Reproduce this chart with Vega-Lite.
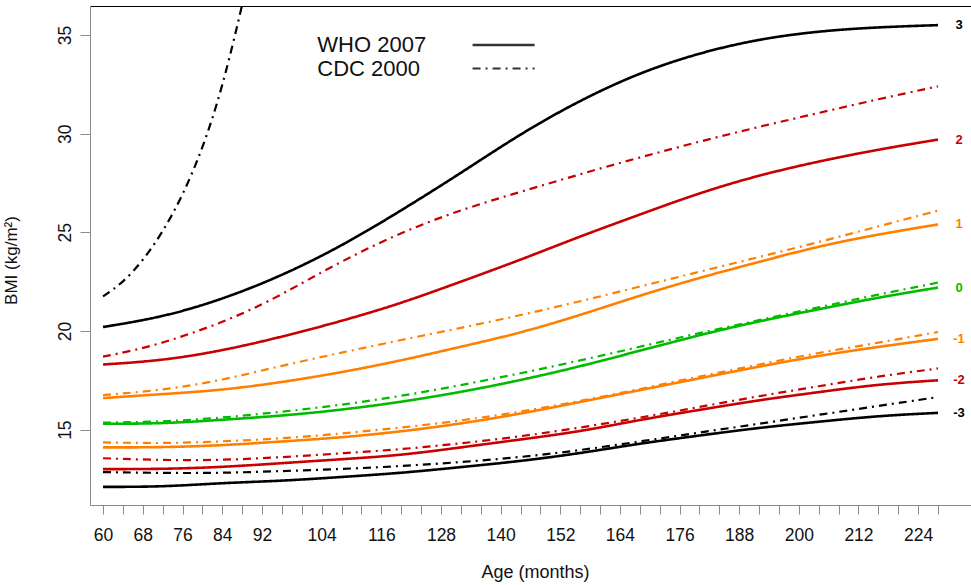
{
  "$schema": "https://vega.github.io/schema/vega-lite/v6.json",
  "width": 881,
  "height": 499,
  "autosize": {"type": "none"},
  "padding": {"left": 90, "top": 6, "right": 0, "bottom": 80},
  "background": "white",
  "config": {"font": "Liberation Sans", "view": {"stroke": null}},
  "datasets": {
    "curves": [
      {"src":"WHO 2007","z":"3","age":60,"bmi":20.2},{"src":"WHO 2007","z":"3","age":72,"bmi":20.7},{"src":"WHO 2007","z":"3","age":84,"bmi":21.6},{"src":"WHO 2007","z":"3","age":96,"bmi":22.8},{"src":"WHO 2007","z":"3","age":108,"bmi":24.3},{"src":"WHO 2007","z":"3","age":120,"bmi":26.1},{"src":"WHO 2007","z":"3","age":132,"bmi":28.0},{"src":"WHO 2007","z":"3","age":144,"bmi":30.0},{"src":"WHO 2007","z":"3","age":156,"bmi":31.7},{"src":"WHO 2007","z":"3","age":168,"bmi":33.1},{"src":"WHO 2007","z":"3","age":180,"bmi":34.1},{"src":"WHO 2007","z":"3","age":192,"bmi":34.8},{"src":"WHO 2007","z":"3","age":204,"bmi":35.2},{"src":"WHO 2007","z":"3","age":216,"bmi":35.4},{"src":"WHO 2007","z":"3","age":228,"bmi":35.5},
      {"src":"WHO 2007","z":"2","age":60,"bmi":18.3},{"src":"WHO 2007","z":"2","age":72,"bmi":18.5},{"src":"WHO 2007","z":"2","age":84,"bmi":19.0},{"src":"WHO 2007","z":"2","age":96,"bmi":19.7},{"src":"WHO 2007","z":"2","age":108,"bmi":20.5},{"src":"WHO 2007","z":"2","age":120,"bmi":21.4},{"src":"WHO 2007","z":"2","age":132,"bmi":22.5},{"src":"WHO 2007","z":"2","age":144,"bmi":23.6},{"src":"WHO 2007","z":"2","age":156,"bmi":24.8},{"src":"WHO 2007","z":"2","age":168,"bmi":25.9},{"src":"WHO 2007","z":"2","age":180,"bmi":27.0},{"src":"WHO 2007","z":"2","age":192,"bmi":27.9},{"src":"WHO 2007","z":"2","age":204,"bmi":28.6},{"src":"WHO 2007","z":"2","age":216,"bmi":29.2},{"src":"WHO 2007","z":"2","age":228,"bmi":29.7},
      {"src":"WHO 2007","z":"1","age":60,"bmi":16.6},{"src":"WHO 2007","z":"1","age":72,"bmi":16.8},{"src":"WHO 2007","z":"1","age":84,"bmi":17.0},{"src":"WHO 2007","z":"1","age":96,"bmi":17.4},{"src":"WHO 2007","z":"1","age":108,"bmi":17.9},{"src":"WHO 2007","z":"1","age":120,"bmi":18.5},{"src":"WHO 2007","z":"1","age":132,"bmi":19.2},{"src":"WHO 2007","z":"1","age":144,"bmi":19.9},{"src":"WHO 2007","z":"1","age":156,"bmi":20.8},{"src":"WHO 2007","z":"1","age":168,"bmi":21.8},{"src":"WHO 2007","z":"1","age":180,"bmi":22.7},{"src":"WHO 2007","z":"1","age":192,"bmi":23.5},{"src":"WHO 2007","z":"1","age":204,"bmi":24.3},{"src":"WHO 2007","z":"1","age":216,"bmi":24.9},{"src":"WHO 2007","z":"1","age":228,"bmi":25.4},
      {"src":"WHO 2007","z":"0","age":60,"bmi":15.3},{"src":"WHO 2007","z":"0","age":72,"bmi":15.3},{"src":"WHO 2007","z":"0","age":84,"bmi":15.5},{"src":"WHO 2007","z":"0","age":96,"bmi":15.7},{"src":"WHO 2007","z":"0","age":108,"bmi":16.0},{"src":"WHO 2007","z":"0","age":120,"bmi":16.4},{"src":"WHO 2007","z":"0","age":132,"bmi":16.9},{"src":"WHO 2007","z":"0","age":144,"bmi":17.5},{"src":"WHO 2007","z":"0","age":156,"bmi":18.2},{"src":"WHO 2007","z":"0","age":168,"bmi":19.0},{"src":"WHO 2007","z":"0","age":180,"bmi":19.8},{"src":"WHO 2007","z":"0","age":192,"bmi":20.5},{"src":"WHO 2007","z":"0","age":204,"bmi":21.1},{"src":"WHO 2007","z":"0","age":216,"bmi":21.7},{"src":"WHO 2007","z":"0","age":228,"bmi":22.2},
      {"src":"WHO 2007","z":"-1","age":60,"bmi":14.1},{"src":"WHO 2007","z":"-1","age":72,"bmi":14.1},{"src":"WHO 2007","z":"-1","age":84,"bmi":14.2},{"src":"WHO 2007","z":"-1","age":96,"bmi":14.4},{"src":"WHO 2007","z":"-1","age":108,"bmi":14.6},{"src":"WHO 2007","z":"-1","age":120,"bmi":14.9},{"src":"WHO 2007","z":"-1","age":132,"bmi":15.3},{"src":"WHO 2007","z":"-1","age":144,"bmi":15.8},{"src":"WHO 2007","z":"-1","age":156,"bmi":16.4},{"src":"WHO 2007","z":"-1","age":168,"bmi":17.0},{"src":"WHO 2007","z":"-1","age":180,"bmi":17.6},{"src":"WHO 2007","z":"-1","age":192,"bmi":18.2},{"src":"WHO 2007","z":"-1","age":204,"bmi":18.75},{"src":"WHO 2007","z":"-1","age":216,"bmi":19.2},{"src":"WHO 2007","z":"-1","age":228,"bmi":19.6},
      {"src":"WHO 2007","z":"-2","age":60,"bmi":13.0},{"src":"WHO 2007","z":"-2","age":72,"bmi":13.0},{"src":"WHO 2007","z":"-2","age":84,"bmi":13.1},{"src":"WHO 2007","z":"-2","age":96,"bmi":13.3},{"src":"WHO 2007","z":"-2","age":108,"bmi":13.5},{"src":"WHO 2007","z":"-2","age":120,"bmi":13.7},{"src":"WHO 2007","z":"-2","age":132,"bmi":14.1},{"src":"WHO 2007","z":"-2","age":144,"bmi":14.5},{"src":"WHO 2007","z":"-2","age":156,"bmi":14.9},{"src":"WHO 2007","z":"-2","age":168,"bmi":15.5},{"src":"WHO 2007","z":"-2","age":180,"bmi":16.0},{"src":"WHO 2007","z":"-2","age":192,"bmi":16.5},{"src":"WHO 2007","z":"-2","age":204,"bmi":16.9},{"src":"WHO 2007","z":"-2","age":216,"bmi":17.3},{"src":"WHO 2007","z":"-2","age":228,"bmi":17.5},
      {"src":"WHO 2007","z":"-3","age":60,"bmi":12.1},{"src":"WHO 2007","z":"-3","age":72,"bmi":12.1},{"src":"WHO 2007","z":"-3","age":84,"bmi":12.3},{"src":"WHO 2007","z":"-3","age":96,"bmi":12.4},{"src":"WHO 2007","z":"-3","age":108,"bmi":12.6},{"src":"WHO 2007","z":"-3","age":120,"bmi":12.8},{"src":"WHO 2007","z":"-3","age":132,"bmi":13.1},{"src":"WHO 2007","z":"-3","age":144,"bmi":13.4},{"src":"WHO 2007","z":"-3","age":156,"bmi":13.8},{"src":"WHO 2007","z":"-3","age":168,"bmi":14.3},{"src":"WHO 2007","z":"-3","age":180,"bmi":14.7},{"src":"WHO 2007","z":"-3","age":192,"bmi":15.1},{"src":"WHO 2007","z":"-3","age":204,"bmi":15.4},{"src":"WHO 2007","z":"-3","age":216,"bmi":15.7},{"src":"WHO 2007","z":"-3","age":228,"bmi":15.85},
      {"src":"CDC 2000","z":"3","age":60,"bmi":21.75},{"src":"CDC 2000","z":"3","age":64,"bmi":22.45},{"src":"CDC 2000","z":"3","age":68,"bmi":23.55},{"src":"CDC 2000","z":"3","age":72,"bmi":25.0},{"src":"CDC 2000","z":"3","age":76,"bmi":26.85},{"src":"CDC 2000","z":"3","age":80,"bmi":29.2},{"src":"CDC 2000","z":"3","age":84,"bmi":32.3},{"src":"CDC 2000","z":"3","age":88,"bmi":36.5},{"src":"CDC 2000","z":"3","age":89,"bmi":37.7},
      {"src":"CDC 2000","z":"2","age":60,"bmi":18.7},{"src":"CDC 2000","z":"2","age":66,"bmi":19.0},{"src":"CDC 2000","z":"2","age":72,"bmi":19.4},{"src":"CDC 2000","z":"2","age":78,"bmi":19.9},{"src":"CDC 2000","z":"2","age":84,"bmi":20.45},{"src":"CDC 2000","z":"2","age":90,"bmi":21.1},{"src":"CDC 2000","z":"2","age":96,"bmi":21.85},{"src":"CDC 2000","z":"2","age":108,"bmi":23.55},{"src":"CDC 2000","z":"2","age":120,"bmi":25.0},{"src":"CDC 2000","z":"2","age":132,"bmi":26.15},{"src":"CDC 2000","z":"2","age":144,"bmi":27.05},{"src":"CDC 2000","z":"2","age":156,"bmi":27.95},{"src":"CDC 2000","z":"2","age":168,"bmi":28.8},{"src":"CDC 2000","z":"2","age":180,"bmi":29.6},{"src":"CDC 2000","z":"2","age":192,"bmi":30.35},{"src":"CDC 2000","z":"2","age":204,"bmi":31.05},{"src":"CDC 2000","z":"2","age":216,"bmi":31.75},{"src":"CDC 2000","z":"2","age":228,"bmi":32.4},
      {"src":"CDC 2000","z":"1","age":60,"bmi":16.75},{"src":"CDC 2000","z":"1","age":72,"bmi":17.0},{"src":"CDC 2000","z":"1","age":84,"bmi":17.5},{"src":"CDC 2000","z":"1","age":96,"bmi":18.25},{"src":"CDC 2000","z":"1","age":108,"bmi":18.9},{"src":"CDC 2000","z":"1","age":120,"bmi":19.55},{"src":"CDC 2000","z":"1","age":132,"bmi":20.15},{"src":"CDC 2000","z":"1","age":144,"bmi":20.8},{"src":"CDC 2000","z":"1","age":156,"bmi":21.5},{"src":"CDC 2000","z":"1","age":168,"bmi":22.25},{"src":"CDC 2000","z":"1","age":180,"bmi":23.0},{"src":"CDC 2000","z":"1","age":192,"bmi":23.75},{"src":"CDC 2000","z":"1","age":204,"bmi":24.5},{"src":"CDC 2000","z":"1","age":216,"bmi":25.3},{"src":"CDC 2000","z":"1","age":228,"bmi":26.1},
      {"src":"CDC 2000","z":"0","age":60,"bmi":15.35},{"src":"CDC 2000","z":"0","age":72,"bmi":15.4},{"src":"CDC 2000","z":"0","age":84,"bmi":15.6},{"src":"CDC 2000","z":"0","age":96,"bmi":15.9},{"src":"CDC 2000","z":"0","age":108,"bmi":16.25},{"src":"CDC 2000","z":"0","age":120,"bmi":16.7},{"src":"CDC 2000","z":"0","age":132,"bmi":17.25},{"src":"CDC 2000","z":"0","age":144,"bmi":17.85},{"src":"CDC 2000","z":"0","age":156,"bmi":18.5},{"src":"CDC 2000","z":"0","age":168,"bmi":19.2},{"src":"CDC 2000","z":"0","age":180,"bmi":19.9},{"src":"CDC 2000","z":"0","age":192,"bmi":20.55},{"src":"CDC 2000","z":"0","age":204,"bmi":21.2},{"src":"CDC 2000","z":"0","age":216,"bmi":21.85},{"src":"CDC 2000","z":"0","age":228,"bmi":22.45},
      {"src":"CDC 2000","z":"-1","age":60,"bmi":14.35},{"src":"CDC 2000","z":"-1","age":72,"bmi":14.3},{"src":"CDC 2000","z":"-1","age":84,"bmi":14.4},{"src":"CDC 2000","z":"-1","age":96,"bmi":14.55},{"src":"CDC 2000","z":"-1","age":108,"bmi":14.8},{"src":"CDC 2000","z":"-1","age":120,"bmi":15.1},{"src":"CDC 2000","z":"-1","age":132,"bmi":15.45},{"src":"CDC 2000","z":"-1","age":144,"bmi":15.9},{"src":"CDC 2000","z":"-1","age":156,"bmi":16.45},{"src":"CDC 2000","z":"-1","age":168,"bmi":17.05},{"src":"CDC 2000","z":"-1","age":180,"bmi":17.7},{"src":"CDC 2000","z":"-1","age":192,"bmi":18.3},{"src":"CDC 2000","z":"-1","age":204,"bmi":18.9},{"src":"CDC 2000","z":"-1","age":216,"bmi":19.4},{"src":"CDC 2000","z":"-1","age":228,"bmi":19.95},
      {"src":"CDC 2000","z":"-2","age":60,"bmi":13.55},{"src":"CDC 2000","z":"-2","age":72,"bmi":13.45},{"src":"CDC 2000","z":"-2","age":84,"bmi":13.45},{"src":"CDC 2000","z":"-2","age":96,"bmi":13.6},{"src":"CDC 2000","z":"-2","age":108,"bmi":13.8},{"src":"CDC 2000","z":"-2","age":120,"bmi":14.0},{"src":"CDC 2000","z":"-2","age":132,"bmi":14.3},{"src":"CDC 2000","z":"-2","age":144,"bmi":14.65},{"src":"CDC 2000","z":"-2","age":156,"bmi":15.1},{"src":"CDC 2000","z":"-2","age":168,"bmi":15.6},{"src":"CDC 2000","z":"-2","age":180,"bmi":16.15},{"src":"CDC 2000","z":"-2","age":192,"bmi":16.7},{"src":"CDC 2000","z":"-2","age":204,"bmi":17.2},{"src":"CDC 2000","z":"-2","age":216,"bmi":17.7},{"src":"CDC 2000","z":"-2","age":228,"bmi":18.1},
      {"src":"CDC 2000","z":"-3","age":60,"bmi":12.85},{"src":"CDC 2000","z":"-3","age":72,"bmi":12.8},{"src":"CDC 2000","z":"-3","age":84,"bmi":12.8},{"src":"CDC 2000","z":"-3","age":96,"bmi":12.9},{"src":"CDC 2000","z":"-3","age":108,"bmi":13.0},{"src":"CDC 2000","z":"-3","age":120,"bmi":13.15},{"src":"CDC 2000","z":"-3","age":132,"bmi":13.35},{"src":"CDC 2000","z":"-3","age":144,"bmi":13.6},{"src":"CDC 2000","z":"-3","age":156,"bmi":13.95},{"src":"CDC 2000","z":"-3","age":168,"bmi":14.4},{"src":"CDC 2000","z":"-3","age":180,"bmi":14.85},{"src":"CDC 2000","z":"-3","age":192,"bmi":15.3},{"src":"CDC 2000","z":"-3","age":204,"bmi":15.75},{"src":"CDC 2000","z":"-3","age":216,"bmi":16.2},{"src":"CDC 2000","z":"-3","age":228,"bmi":16.65}
    ]
  },
  "data": {"name": "curves"},
  "layer": [
    {
      "mark": {"type": "line", "interpolate": "basis", "clip": true},
      "encoding": {
        "x": {
          "field": "age", "type": "quantitative",
          "scale": {"domain": [57.38, 234.64], "nice": false, "zero": false},
          "axis": {
            "values": [60,64,68,72,76,80,84,88,92,96,100,104,108,112,116,120,124,128,132,136,140,144,148,152,156,160,164,168,172,176,180,184,188,192,196,200,204,208,212,216,220,224,228],
            "labelExpr": "indexof([60,68,76,84,92,104,116,128,140,152,164,176,188,200,212,224], datum.value) >= 0 ? datum.label : ''",
            "title": "Age (months)", "grid": false,
            "domainColor": "#8a8a8a", "tickColor": "#8a8a8a", "tickSize": 9,
            "labelFontSize": 17.5, "labelColor": "#111", "labelPadding": 12,
            "labelOverlap": false, "labelFlush": false,
            "titleFontSize": 18, "titleFontWeight": "normal", "titleColor": "#111",
            "titleX": 445, "titleY": 67, "titleBaseline": "middle"
          }
        },
        "y": {
          "field": "bmi", "type": "quantitative",
          "scale": {"domain": [11.18, 36.47], "nice": false, "zero": false},
          "axis": {
            "values": [15, 20, 25, 30, 35], "labelAngle": -90, "grid": false,
            "domainColor": "#8a8a8a", "tickColor": "#8a8a8a", "tickSize": 10,
            "labelFontSize": 17.5, "labelColor": "#111", "labelPadding": 6,
            "title": "BMI (kg/m²)", "titleFontSize": 17, "titleFontWeight": "normal", "titleColor": "#111",
            "titleX": -79, "titleY": 254, "titleAlign": "center", "titleBaseline": "middle", "titleAngle": -90
          }
        },
        "color": {
          "field": "z", "type": "nominal",
          "scale": {"domain": ["3","2","1","0","-1","-2","-3"], "range": ["#000000","#C80000","#FF8000","#00BB00","#FF8000","#C80000","#000000"]},
          "legend": null
        },
        "strokeDash": {
          "field": "src", "type": "nominal",
          "scale": {"domain": ["WHO 2007", "CDC 2000"], "range": [[1, 0], [8, 5, 2, 5]]},
          "legend": {
            "orient": "none", "legendX": 401.6, "legendY": 27, "title": null,
            "symbolType": "M-3,0H3", "symbolSize": 428, "symbolStrokeWidth": 1, "symbolStrokeColor": "#333",
            "labelFontSize": 22, "labelOffset": -198.3, "labelColor": "#111", "labelAlign": "left",
            "rowPadding": 1, "padding": 0
          }
        },
        "strokeWidth": {
          "field": "src", "type": "nominal",
          "scale": {"domain": ["WHO 2007", "CDC 2000"], "range": [2.6, 2.2]},
          "legend": null
        }
      }
    },
    {
      "transform": [{"filter": "datum.src == 'WHO 2007' && datum.age == 228"}],
      "mark": {"type": "text", "dx": 21, "fontSize": 13, "fontWeight": "bold", "align": "center", "baseline": "middle"},
      "encoding": {
        "x": {"field": "age", "type": "quantitative", "axis": {"orient": "top", "labels": false, "ticks": false, "title": null, "domainColor": "#000", "domainWidth": 1.2, "grid": false}},
        "y": {"field": "bmi", "type": "quantitative"},
        "text": {"field": "z"},
        "color": {"field": "z", "type": "nominal", "legend": null}
      }
    }
  ],
  "resolve": {"axis": {"x": "independent"}}
}
